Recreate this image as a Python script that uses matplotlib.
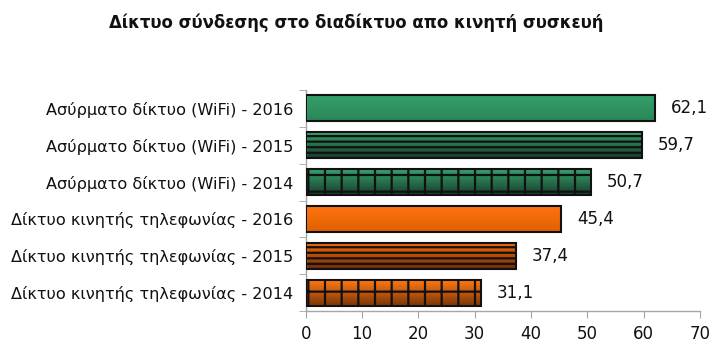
import numpy as np
import matplotlib.pyplot as plt
from matplotlib.colors import to_rgb

plt.rcParams["font.family"] = ["DejaVu Sans"]

# categories, top to bottom
labels = [
    "Ασύρματο δίκτυο (WiFi) - 2016",
    "Ασύρματο δίκτυο (WiFi) - 2015",
    "Ασύρματο δίκτυο (WiFi) - 2014",
    "Δίκτυο κινητής τηλεφωνίας - 2016",
    "Δίκτυο κινητής τηλεφωνίας - 2015",
    "Δίκτυο κινητής τηλεφωνίας - 2014",
]
values = [62.1, 59.7, 50.7, 45.4, 37.4, 31.1]
value_text = ["62,1", "59,7", "50,7", "45,4", "37,4", "31,1"]

# gradient (top colour, bottom colour) and hatch per bar
top_colors = ["#35a06c", "#34a06b", "#36a26d", "#ff7410", "#f56c02", "#ff7a12"]
bottom_colors = ["#2a8656", "#173d2a", "#173d2a", "#e06000", "#6e2c06", "#7a3408"]
hatches = [None, "---", "+", None, "---", "+"]

title = "Δίκτυο σύνδεσης στο διαδίκτυο απο κινητή συσκευή"

fig = plt.figure(figsize=(7.28, 3.5), dpi=100)
ax = fig.add_axes([0.42, 0.111, 0.5415, 0.632])

bar_h = 0.7
y = np.arange(len(values))
plt.rcParams["hatch.linewidth"] = 1.6

for i, (v, c_top, c_bot, h) in enumerate(zip(values, top_colors, bottom_colors, hatches)):
    # vertical gradient from the top colour to the bottom colour
    t = np.linspace(0, 1, 64)[:, None]
    grad = (1 - t) * np.array(to_rgb(c_top)) + t * np.array(to_rgb(c_bot))
    grad = grad[:, None, :].repeat(2, axis=1)
    img = ax.imshow(grad, extent=(0, v, i + bar_h / 2, i - bar_h / 2),
                    origin="upper", aspect="auto", interpolation="bilinear", zorder=2)
    bar = ax.barh(i, v, height=bar_h, facecolor="none", edgecolor="#111111",
                  linewidth=1.5, hatch=h, zorder=3)[0]
    img.set_clip_path(bar)
    ax.text(v + 2.8, i, value_text[i], va="center", ha="left", fontsize=12, color="#111111")

ax.set_xlim(0, 70)
ax.set_ylim(len(values) - 0.5, -0.5)
ax.set_xticks(range(0, 71, 10))
ax.set_yticks(y)
ax.set_yticklabels(labels)
ax.set_yticks(np.arange(-0.5, len(values), 1), minor=True)

for side in ("top", "right"):
    ax.spines[side].set_visible(False)
for side in ("left", "bottom"):
    ax.spines[side].set_color("#a6a6a6")
    ax.spines[side].set_linewidth(1.0)

ax.tick_params(axis="x", direction="out", length=5, color="#a6a6a6", labelsize=12,
               labelcolor="#111111", pad=5)
ax.tick_params(axis="y", which="major", length=0, labelsize=11.6, labelcolor="#111111", pad=9)
ax.tick_params(axis="y", which="minor", direction="out", length=5, color="#a6a6a6")

fig.text(0.489, 0.934, title, ha="center", va="center", fontsize=11.9, fontweight="bold",
         color="#111111")

fig.savefig("out.png", dpi=100)
